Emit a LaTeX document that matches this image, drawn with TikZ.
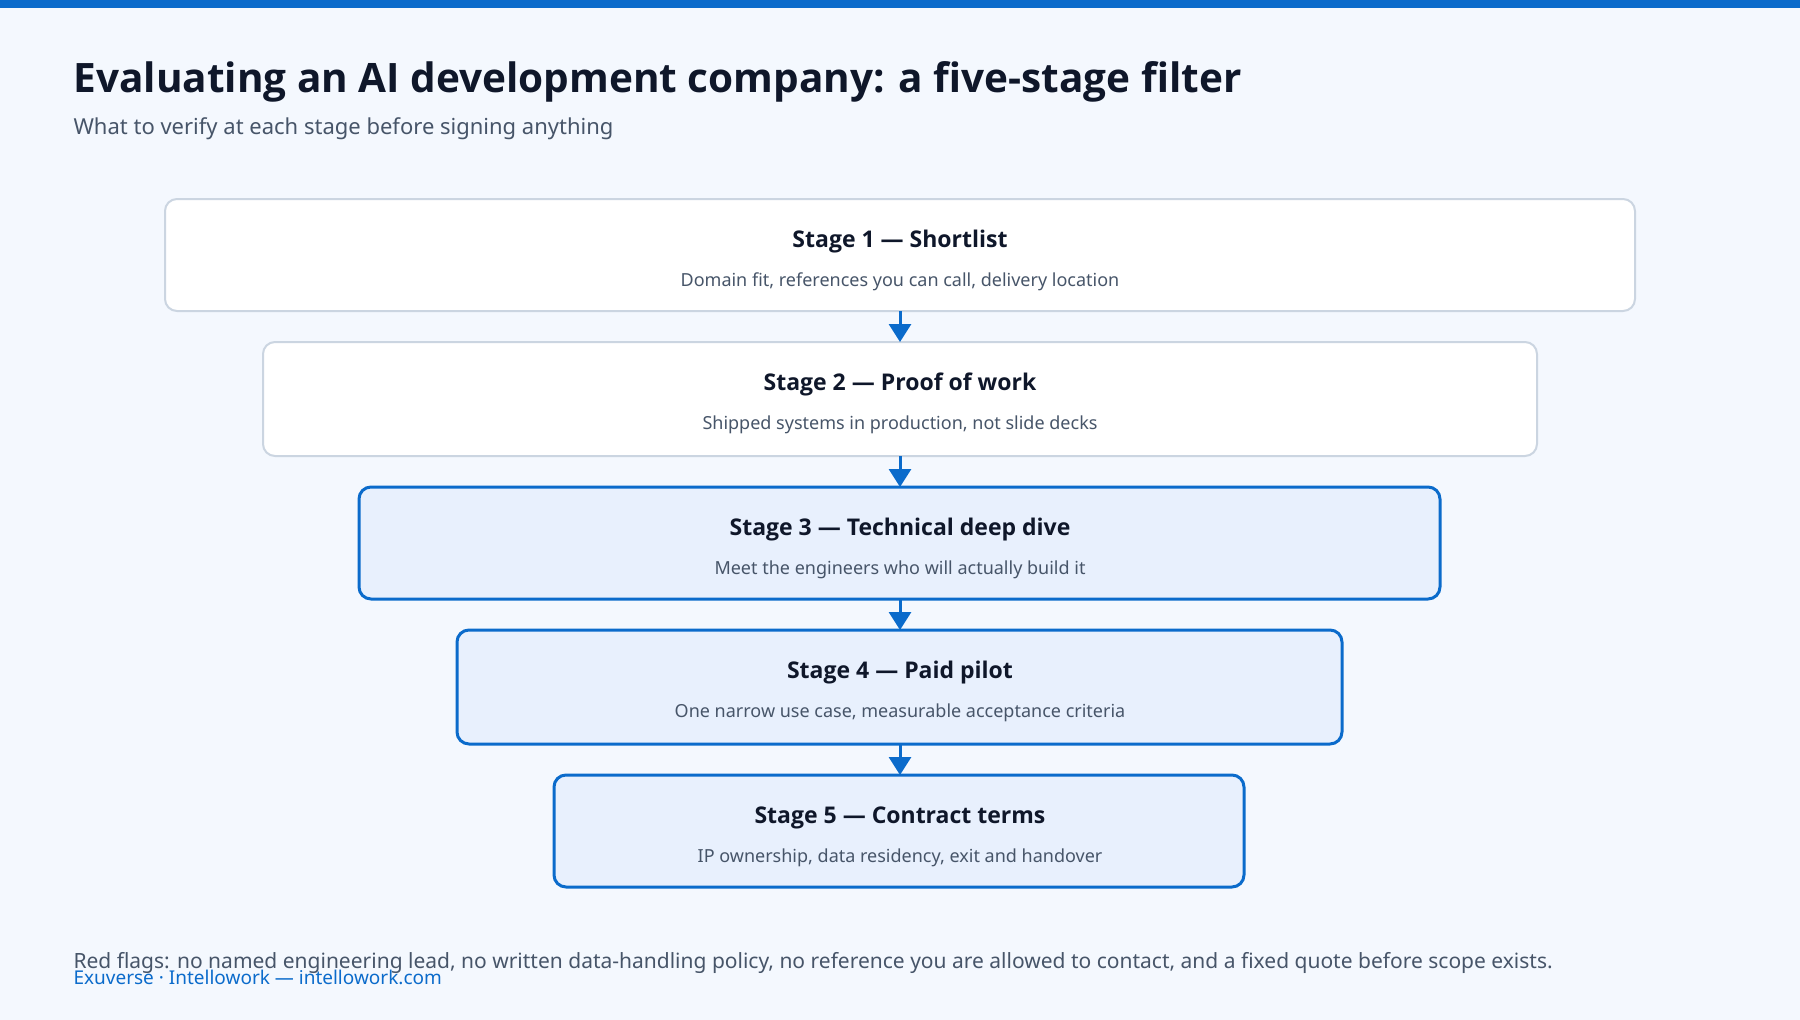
\documentclass[tikz,border=0pt]{standalone}
\usepackage{fontspec}
\setmainfont{Noto Sans}
\newfontfamily\hb{Open Sans}[UprightFont=*-Bold]
\usetikzlibrary{arrows.meta}
\definecolor{bg}{HTML}{F4F8FE}
\definecolor{accent}{HTML}{0B6BCB}
\definecolor{ink}{HTML}{0F172A}
\definecolor{muted}{HTML}{475569}
\definecolor{greyb}{HTML}{CBD5E1}
\definecolor{lightfill}{HTML}{E8F0FD}
\begin{document}
\begin{tikzpicture}[x=1pt,y=-1pt,
  stage/.style={draw=greyb,line width=2pt,fill=white,rounded corners=12pt},
  hot/.style={draw=accent,line width=3pt,fill=lightfill,rounded corners=12pt},
  st/.style={font=\fontsize{23}{27}\hb,text=ink},
  ds/.style={font=\fontsize{18}{22}\selectfont,text=muted},
  arr/.style={draw=accent,line width=3pt,-{Triangle[length=18pt,width=22pt]}}]
\useasboundingbox (0,0) rectangle (1800,1020);
\fill[bg] (0,0) rectangle (1800,1020);
\fill[accent] (0,0) rectangle (1800,8);
\node[anchor=base west,font=\fontsize{40.5}{45}\hb,text=ink] (title) at (70,92) {Evaluating an AI development company: a five-stage filter};
\node[anchor=base west,font=\fontsize{22}{26}\selectfont,text=muted] (sub) at (70,134) {What to verify at each stage before signing anything};
\foreach \i/\l/\r/\t/\s/\sty/\ttl/\dsc in {
 1/165/1635/199/311/stage/{Stage 1 — Shortlist}/{Domain fit, references you can call, delivery location},
 2/263/1537/342/456/stage/{Stage 2 — Proof of work}/{Shipped systems in production, not slide decks},
 3/359/1440/487/599/hot/{Stage 3 — Technical deep dive}/{Meet the engineers who will actually build it},
 4/457/1342/630/744/hot/{Stage 4 — Paid pilot}/{One narrow use case, measurable acceptance criteria},
 5/554/1244/775/887/hot/{Stage 5 — Contract terms}/{IP ownership, data residency, exit and handover}}{
  \draw[\sty] (\l,\t) rectangle (\r,\s);
  \coordinate (b\i) at (900,\s);
  \coordinate (t\i) at (900,\t);
  \node[st,anchor=base] (n\i) at (900,\t+48) {\ttl};
  \node[ds,anchor=base] (d\i) at (900,\t+87) {\dsc};
}
\foreach \a/\b in {1/2,2/3,3/4,4/5}{\draw[arr] (b\a) -- (t\b);}
\node[anchor=base west,font=\fontsize{21}{25}\selectfont,text=muted] (flags) at (70,968) {Red flags: no named engineering lead, no written data-handling policy, no reference you are allowed to contact, and a fixed quote before scope exists.};
\node[anchor=base west,font=\fontsize{19}{23}\selectfont,text=accent] (foot) at (70,984) {Exuverse · Intellowork — intellowork.com};
\end{tikzpicture}
\end{document}
